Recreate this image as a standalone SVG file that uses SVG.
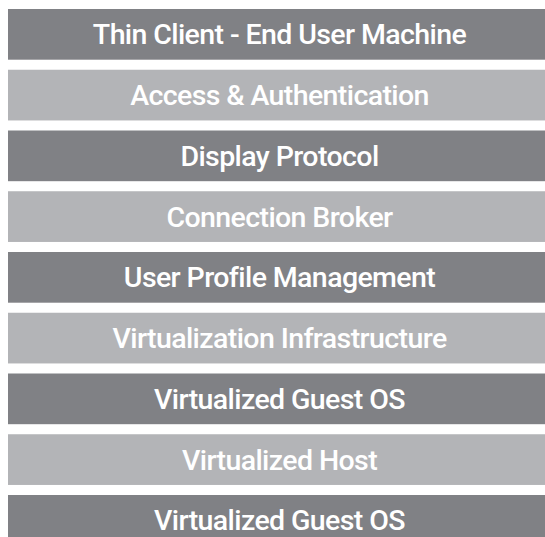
<svg xmlns="http://www.w3.org/2000/svg" width="545" height="537" viewBox="0 0 545 537">
<style>
.dark{fill:#808185}
.light{fill:#b3b4b7}
text{font-family:Roboto,"Liberation Sans",sans-serif;font-size:28.5px;font-weight:500;fill:#ffffff;text-anchor:middle;letter-spacing:-0.6px}
</style>
<rect width="545" height="537" fill="#ffffff"/>
<g id="layer1"><rect class="dark" x="8" y="9" width="537" height="50.7"/><text x="279.5" y="44.3">Thin Client - End User Machine</text></g>
<g id="layer2"><rect class="light" x="8" y="69.75" width="537" height="50.7"/><text x="279.5" y="105.05">Access &amp; Authentication</text></g>
<g id="layer3"><rect class="dark" x="8" y="130.5" width="537" height="50.7"/><text x="279.5" y="165.8">Display Protocol</text></g>
<g id="layer4"><rect class="light" x="8" y="191.25" width="537" height="50.7"/><text x="279.5" y="226.55">Connection Broker</text></g>
<g id="layer5"><rect class="dark" x="8" y="252" width="537" height="50.7"/><text x="279.5" y="287.3">User Profile Management</text></g>
<g id="layer6"><rect class="light" x="8" y="312.75" width="537" height="50.7"/><text x="279.5" y="348.05">Virtualization Infrastructure</text></g>
<g id="layer7"><rect class="dark" x="8" y="373.5" width="537" height="50.7"/><text x="279.5" y="408.8">Virtualized Guest OS</text></g>
<g id="layer8"><rect class="light" x="8" y="434.25" width="537" height="50.7"/><text x="279.5" y="469.55">Virtualized Host</text></g>
<g id="layer9"><rect class="dark" x="8" y="495" width="537" height="50.7"/><text x="279.5" y="530.3">Virtualized Guest OS</text></g>
<g id="connectors"/>
</svg>
